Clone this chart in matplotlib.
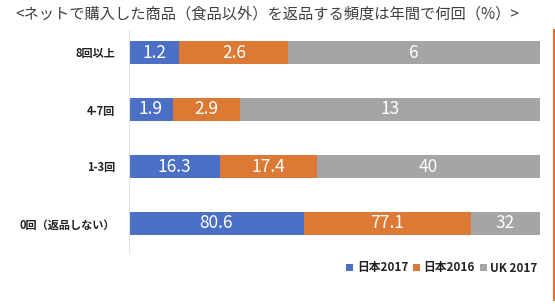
import numpy as np
import matplotlib.pyplot as plt
from matplotlib.lines import Line2D

plt.rcParams['font.family'] = ['Noto Sans CJK JP', 'DejaVu Sans']

categories = ['8回以上', '4-7回', '1-3回', '0回（返品しない）']
series = ['日本2017', '日本2016', 'UK 2017']
jp2017 = [1.2, 1.9, 16.3, 80.6]
jp2016 = [2.6, 2.9, 17.4, 77.1]
uk2017 = [6, 13, 40, 32]
colors = ['#4A6FC4', '#DC7A35', '#A5A5A5']

vals = np.array([jp2017, jp2016, uk2017], dtype=float)
share = vals / vals.sum(axis=0) * 100

fig = plt.figure(figsize=(5.55, 3.07), dpi=100)
ax = fig.add_axes([129/555, 1-252/307, (540-129)/555, (252-24)/307])

y = np.arange(len(categories))
left = np.zeros(len(categories))
for i in range(3):
    ax.barh(y, share[i], left=left, height=0.41, color=colors[i], label=series[i])
    for j in range(len(categories)):
        ax.text(left[j] + share[i][j]/2, y[j], f'{vals[i][j]:g}', ha='center', va='center',
                color='white', fontsize=12.5)
    left += share[i]

ax.set_xlim(0, 100)
ax.set_ylim(3.5, -0.5)
ax.set_yticks(y)
ax.set_yticklabels(categories, fontsize=8, fontweight='bold', color='#222222')
ax.tick_params(axis='y', length=0, pad=10)
ax.set_xticks([])
for s in ['top', 'right', 'bottom']:
    ax.spines[s].set_visible(False)
ax.spines['left'].set_color('#E0E0E0')
ax.spines['left'].set_bounds(-0.4, 3.5)

fig.text(267/555, 1-14/307, '<ネットで購入した商品（食品以外）を返品する頻度は年間で何回（%）>',
         ha='center', va='center', fontsize=11, color='#404040')

leg = ax.legend(loc='center', bbox_to_anchor=(442/555, 1-268/307), bbox_transform=fig.transFigure,
                ncol=3, frameon=False, handlelength=0.6, handleheight=0.6,
                handletextpad=0.3, columnspacing=0.4, prop={'weight': 'bold', 'size': 8.5})
for t in leg.get_texts():
    t.set_color('#222222')

fig.add_artist(Line2D([554/555, 554/555], [1-30/307, 1-300/307], transform=fig.transFigure,
                      color='#E8732A', linewidth=1.5))

fig.savefig('out.png', dpi=100, facecolor='white')
